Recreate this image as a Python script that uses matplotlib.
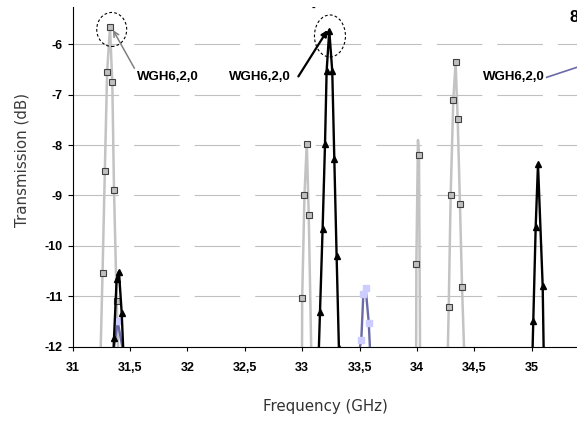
import numpy as np
import matplotlib
matplotlib.use('Agg')
import matplotlib.pyplot as plt
from matplotlib.patches import Ellipse

# grey series (square markers); values below -12 are off the scale
grey_freq = [31.24, 31.26, 31.28, 31.30, 31.325, 31.345, 31.36, 31.383, 31.40,
             32.98, 33.00, 33.02, 33.04, 33.057, 33.08,
             33.98, 33.995, 34.009, 34.018, 34.03,
             34.26, 34.277, 34.294, 34.317, 34.337, 34.355, 34.375, 34.393, 34.413]
grey_db = [-12.4, -10.54, -8.52, -6.55, -5.66, -6.75, -8.89, -11.09, -12.4,
           -25.0, -11.03, -8.99, -7.97, -9.39, -12.2,
           -25.0, -10.36, -7.9, -8.2, -13.3,
           -13.1, -11.22, -8.99, -7.1, -6.36, -7.48, -9.17, -10.81, -12.2]
grey_no_marker = [15, 17]

# black series (triangle markers)
black_freq = [31.34, 31.36, 31.383, 31.403, 31.427, 31.445,
              33.135, 33.155, 33.178, 33.199, 33.213, 33.236, 33.262, 33.28, 33.30, 33.32, 33.34,
              34.995, 35.014, 35.035, 35.055, 35.096, 35.116]
black_db = [-12.9, -11.83, -10.66, -10.51, -11.33, -12.3,
            -12.8, -11.32, -9.66, -7.97, -6.53, -5.73, -6.53, -8.28, -10.2, -12.02, -13.0,
            -13.2, -11.49, -9.62, -8.38, -10.8, -13.8]

# blue series (light square markers)
blue_freq = [31.355, 31.392, 31.44, 33.495, 33.515, 33.533, 33.553, 33.58, 33.60]
blue_db = [-12.1, -11.5, -12.1, -12.1, -11.87, -10.95, -10.84, -11.52, -12.48]

x_ticks = [31, 31.5, 32, 32.5, 33, 33.5, 34, 34.5, 35]
x_labels = ['31', '31,5', '32', '32,5', '33', '33,5', '34', '34,5', '35']
y_ticks = [-12, -11, -10, -9, -8, -7, -6]
y_labels = ['-12', '-11', '-10', '-9', '-8', '-7', '-6']

label_text = 'WGH6,2,0'

fig = plt.figure(figsize=(5.77, 4.21), dpi=100)
ax = fig.add_axes([0.126, 0.1765, 0.874, 0.8062])

ax.plot(grey_freq, grey_db, color='#c3c3c3', lw=1.8, marker='s', ms=4.6,
        mfc='#c0c0c0', mec='#404040', mew=0.8, zorder=2,
        markevery=[i for i in range(len(grey_freq)) if i not in grey_no_marker])
ax.plot(blue_freq, blue_db, color='#6a6aa8', lw=1.7, marker='s', ms=4.6,
        mfc='#ccccff', mec='#ccccff', zorder=3)
ax.plot(black_freq, black_db, color='black', lw=1.7, marker='^', ms=4.2,
        mfc='black', mec='black', zorder=4)

ax.set_xlim(31, 35.395)
ax.set_ylim(-12, -5.266)
ax.set_xticks(x_ticks)
ax.set_xticklabels(x_labels)
ax.set_yticks(y_ticks)
ax.set_yticklabels(y_labels)
for lab in ax.get_xticklabels() + ax.get_yticklabels():
    lab.set_fontfamily('Liberation Sans')
    lab.set_fontweight('bold')
    lab.set_fontsize(9)
ax.tick_params(axis='x', direction='out', length=3, width=0.8, pad=8)
ax.tick_params(axis='y', direction='out', length=3.6, width=0.8, pad=3.4)

ax.yaxis.grid(True, color='#c0c0c0', lw=0.8, linestyle=(0, (41, 13.5)))
ax.set_axisbelow(True)
for s in ['top', 'right']:
    ax.spines[s].set_visible(False)
for s in ['left', 'bottom']:
    ax.spines[s].set_linewidth(0.8)
    ax.spines[s].set_color('black')

fig.text(22 / 577, 1 - 160 / 421, 'Transmission (dB)', rotation=90,
         ha='center', va='center', fontsize=10.8, color='#3a3a3a', family='DejaVu Sans')
fig.text(325 / 577, 1 - 407 / 421, 'Frequency (GHz)', ha='center', va='center',
         fontsize=10.8, color='#333333', family='DejaVu Sans')

bold = dict(fontsize=9.5, fontweight='bold', family='Liberation Sans', va='center')

# first peak label, grey arrow
ax.annotate(label_text, xy=(31.351, -5.716), xytext=(31.56, -6.65),
            ha='left', color='black', **bold,
            arrowprops=dict(arrowstyle='->', color='#808080', lw=1.1,
                            shrinkA=0, shrinkB=0,
                            relpos=(0, 0.85)))
ax.add_patch(Ellipse((31.34, -5.706), 0.261, 0.675, fill=False, ls=(0, (2.5, 2)),
                     lw=0.8, ec='black', zorder=5))

# second peak label, black arrow
ax.annotate(label_text, xy=(33.222, -5.716), xytext=(32.364, -6.65),
            ha='left', color='black', **bold,
            arrowprops=dict(arrowstyle='-|>', color='black', lw=1.6,
                            shrinkA=0, shrinkB=0, mutation_scale=9,
                            relpos=(1.12, 0.55)))
ax.add_patch(Ellipse((33.242, -5.835), 0.27, 0.833, fill=False, ls=(0, (2.5, 2)),
                     lw=0.8, ec='black', zorder=5))

# third label, blue leader leaving the frame
ax.text(34.578, -6.655, label_text, ha='left', color='black', **bold)
ax.plot([35.131, 35.51], [-6.655, -6.37], color='#6a6aa8', lw=1.2, clip_on=False)

fig.text(313 / 577, 1 - 8 / 421, '-', fontsize=8, fontweight='bold',
         family='Liberation Sans', ha='center', va='center')
fig.text(570 / 577, 1 - 18 / 421, '8', fontsize=12, fontweight='bold',
         family='Liberation Sans', ha='left', va='center')

plt.rcParams['axes.unicode_minus'] = False
fig.savefig('out.png', dpi=100)
